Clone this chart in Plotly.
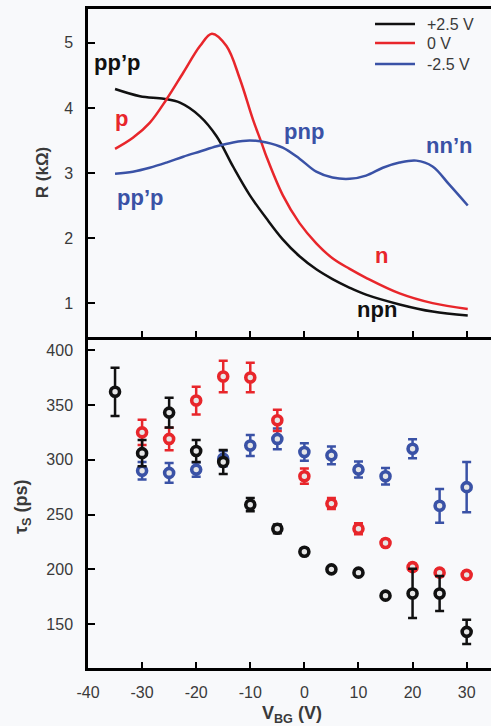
import plotly.graph_objects as go

# ---------------- data ----------------
# top panel: R (kOhm) vs V_BG for three top-gate voltages
v_black = [-35, -30.4, -26, -23, -19.3, -16.2, -13.2, -10.1, -7, -4, -0.9, 2.2, 5.2, 8.3, 11.4, 17.6, 23.7, 30.2]
r_black = [4.29, 4.18, 4.14, 4.08, 3.87, 3.56, 3.10, 2.66, 2.30, 1.98, 1.72, 1.52, 1.37, 1.24, 1.13, 0.98, 0.87, 0.81]

v_red = [-35, -31.7, -28.6, -25.5, -22.4, -19.3, -17.1, -14.4, -11.9, -9.5, -7.9, -7, -4, -0.9, 2.2, 5.2, 8.3, 11.4, 17.6, 23.7, 30.2]
r_red = [3.37, 3.54, 3.77, 4.13, 4.54, 4.95, 5.14, 4.95, 4.44, 3.82, 3.46, 3.25, 2.66, 2.23, 1.92, 1.69, 1.53, 1.39, 1.15, 1.00, 0.91]

v_blue = [-35, -31.7, -28.6, -25.5, -22.4, -19.3, -16.2, -13.2, -10.1, -7, -4, -0.9, 2.2, 5.2, 8.4, 11.4, 14.5, 17.6, 20.7, 23.7, 26.8, 30.2]
r_blue = [2.99, 3.02, 3.08, 3.16, 3.25, 3.33, 3.41, 3.47, 3.50, 3.47, 3.39, 3.22, 3.02, 2.93, 2.91, 2.96, 3.08, 3.16, 3.19, 3.10, 2.82, 2.50]

# bottom panel: spin lifetime tau_s (ps) with error bars
v_black_t = [-35, -30, -25, -20, -15, -10, -5, 0, 5, 10, 15, 20, 25, 30]
tau_black = [362, 306, 343, 308, 298, 259, 237, 216, 200, 197, 176, 178, 178, 143]
err_black = [22, 12, 13.5, 10, 11, 6, 4, 3, 2, 2, 2, 22.5, 16, 11]

v_red_t = [-30, -25, -20, -15, -10, -5, 0, 5, 10, 15, 20, 25, 30]
tau_red = [325, 319, 354, 376, 375, 336, 285, 260, 237, 224, 202, 197, 195]
err_red = [11.5, 10.3, 12.7, 14.4, 13.4, 9.7, 7, 5, 5, 3, 3, 3, 3]

v_blue_t = [-30, -25, -20, -15, -10, -5, 0, 5, 10, 15, 20, 25, 30]
tau_blue = [290, 288, 291, 301, 313, 319, 307, 304, 291, 285, 310, 258, 275]
err_blue = [8, 9, 6.5, 7, 9.5, 9.5, 8, 8, 7.3, 7.5, 8.7, 15.4, 23]

legend_names = ["+2.5 V", "0 V", "-2.5 V"]
x_ticks = [-40, -30, -20, -10, 0, 10, 20, 30]
x_ticktext = ["-40", "-30", "-20", "-10", "0", "10", "20", "30"]
r_ticks = [1, 2, 3, 4, 5]
tau_ticks = [150, 200, 250, 300, 350, 400]

BLACK = "#111111"
RED = "#e8262b"
BLUE = "#3a52a6"
BG = "#f8f9fb"
TXT = "#3a3a3a"

fig = go.Figure()

for v, r, c in [(v_black, r_black, BLACK), (v_red, r_red, RED), (v_blue, r_blue, BLUE)]:
    fig.add_trace(go.Scatter(x=v, y=r, mode="lines", line=dict(color=c, width=2.5, shape="spline", smoothing=1.0),
                             xaxis="x", yaxis="y", showlegend=False, hoverinfo="skip"))

for v, t, e, c in [(v_blue_t, tau_blue, err_blue, BLUE), (v_red_t, tau_red, err_red, RED), (v_black_t, tau_black, err_black, BLACK)]:
    fig.add_trace(go.Scatter(x=v, y=t, mode="markers",
                             error_y=dict(type="data", array=e, color=c, thickness=2.5, width=4.5),
                             marker=dict(symbol="circle", size=9, color="#e6e6e6", line=dict(color=c, width=3.6)),
                             xaxis="x2", yaxis="y2", showlegend=False, hoverinfo="skip"))

split = 0.5023
axis_common = dict(showgrid=False, zeroline=False, showline=True, linecolor="black", linewidth=2.5,
                   ticks="inside", tickcolor="black", tickwidth=2,
                   tickfont=dict(family="Liberation Sans, Arial", size=16, color=TXT))

fig.update_layout(
    width=491, height=726,
    margin=dict(l=88, r=0, t=9, b=58, autoexpand=False),
    paper_bgcolor=BG, plot_bgcolor=BG,
    showlegend=False,
    xaxis=dict(axis_common, domain=[0, 1], range=[-40, 34.5], anchor="y", tickvals=x_ticks[1:],
               showticklabels=False, ticklen=6, mirror=True),
    yaxis=dict(axis_common, domain=[split, 1], range=[0.48, 5.52], anchor="x", tickvals=r_ticks,
               ticklen=7, ticklabelstandoff=9),
    xaxis2=dict(axis_common, domain=[0, 1], range=[-40, 34.5], anchor="y2", tickvals=x_ticks,
                ticktext=x_ticktext, ticklen=6, ticklabelstandoff=8),
    yaxis2=dict(axis_common, domain=[0, split], range=[110, 412], anchor="x2", tickvals=tau_ticks,
                ticklen=7, ticklabelstandoff=9),
)

anns = []
lab_font = "Liberation Sans, Arial"
labels = [
    ("pp’p", -34.7, 4.70, BLACK),
    ("p", -33.8, 3.83, RED),
    ("pp’p", -30.4, 2.63, BLUE),
    ("pnp", 0.0, 3.64, BLUE),
    ("nn’n", 26.7, 3.43, BLUE),
    ("n", 14.2, 1.73, RED),
    ("npn", 13.5, 0.90, BLACK),
]
for txt, x, y, c in labels:
    anns.append(dict(text=f"<b>{txt}</b>", x=x, y=y, xref="x", yref="y", showarrow=False,
                     font=dict(family=lab_font, size=22, color=c), xanchor="center", yanchor="middle"))

# legend (drawn manually)
leg_y = [0.9772, 0.9484, 0.9165]
shapes = []
for name, ly, c in zip(legend_names, leg_y, [BLACK, RED, BLUE]):
    shapes.append(dict(type="line", xref="paper", yref="paper", x0=0.7122, x1=0.8114, y0=ly, y1=ly,
                       line=dict(color=c, width=2.5)))
    anns.append(dict(text=name, x=0.8362, y=ly, xref="paper", yref="paper", showarrow=False,
                     xanchor="left", yanchor="middle", font=dict(family=lab_font, size=16, color=TXT)))

# axis titles
anns.append(dict(text="<b>R (kΩ)</b>", x=-0.114, y=0.751, xref="paper", yref="paper", showarrow=False,
                 textangle=-90, xanchor="center", yanchor="middle", font=dict(family=lab_font, size=17, color=TXT)))
anns.append(dict(text="<b>τ<sub>S</sub> (ps)</b>", x=-0.1638, y=0.2443, xref="paper", yref="paper", showarrow=False,
                 textangle=-90, xanchor="center", yanchor="middle", font=dict(family=lab_font, size=18, color=TXT)))
anns.append(dict(text="<b>V<sub>BG</sub> (V)</b>", x=0.506, y=-0.0713, xref="paper", yref="paper", showarrow=False,
                 xanchor="center", yanchor="middle", font=dict(family=lab_font, size=18, color=TXT)))

fig.update_layout(annotations=anns, shapes=shapes)
fig.write_html("out.html")
